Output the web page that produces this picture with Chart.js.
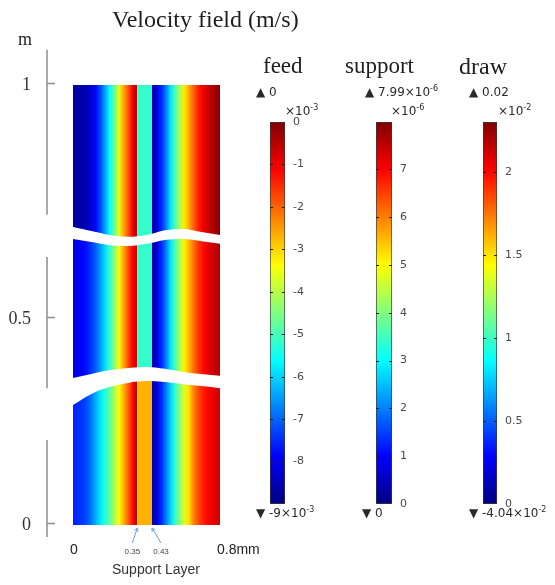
<!DOCTYPE html>
<html>
<head>
<meta charset="utf-8">
<title>Velocity field</title>
<script src="https://cdn.jsdelivr.net/npm/chart.js@4.4.1/dist/chart.umd.min.js"></script>
<style>
  html, body { margin: 0; padding: 0; background: #ffffff; }
  #wrap { position: relative; width: 555px; height: 585px; overflow: hidden; background: #ffffff; }
  canvas { position: absolute; }
  .t { position: absolute; white-space: nowrap; line-height: 1; }
  .serif { font-family: "Liberation Serif", "Times New Roman", serif; color: #1e1e1e; }
  .lab { font-family: "DejaVu Sans", sans-serif; font-size: 12px; color: #2a2a2a; }
  .lab sup { font-size: 8px; vertical-align: baseline; position: relative; top: -5px; }
  .sans { font-family: "Liberation Sans", Arial, sans-serif; color: #333333; }
</style>
</head>
<body>
<div id="wrap">
  <canvas id="field" width="300" height="585" style="left:0;top:0"></canvas>
  <canvas id="cbFeed" width="80" height="430" style="left:250px;top:100px"></canvas>
  <canvas id="cbSupport" width="80" height="430" style="left:356px;top:100px"></canvas>
  <canvas id="cbDraw" width="90" height="430" style="left:463px;top:100px"></canvas>

  <div class="t serif" style="left:112px;top:7px;font-size:24px">Velocity field (m/s)</div>
  <div class="t serif" style="left:18px;top:30px;font-size:18px">m</div>

  <div class="t serif" style="left:263px;top:54px;font-size:23px">feed</div>
  <div class="t serif" style="left:345px;top:54px;font-size:23px">support</div>
  <div class="t serif" style="left:459px;top:54px;font-size:24px">draw</div>

  <div class="t lab" style="left:256px;top:86px">▲ 0</div>
  <div class="t lab" style="left:365px;top:86px">▲ 7.99×10<sup>-6</sup></div>
  <div class="t lab" style="left:469px;top:86px">▲ 0.02</div>

  <div class="t lab" style="left:285px;top:105px">×10<sup>-3</sup></div>
  <div class="t lab" style="left:391px;top:105px">×10<sup>-6</sup></div>
  <div class="t lab" style="left:498px;top:105px">×10<sup>-2</sup></div>

  <div class="t lab" style="left:256px;top:507px">▼ -9×10<sup>-3</sup></div>
  <div class="t lab" style="left:362px;top:507px">▼ 0</div>
  <div class="t lab" style="left:469px;top:507px">▼ -4.04×10<sup>-2</sup></div>

  <div class="t sans" style="left:112px;top:562px;font-size:14px">Support Layer</div>
</div>

<script>
// Sample positions across the membrane cell (mm)
const feedX    = [0, 0.025, 0.05, 0.075, 0.1, 0.125, 0.15, 0.175, 0.2, 0.225, 0.25, 0.275, 0.3, 0.325, 0.35];
const supportX = [0.35, 0.43];
const drawX    = [0.43, 0.455, 0.48, 0.505, 0.53, 0.555, 0.58, 0.605, 0.63, 0.655, 0.68, 0.705, 0.73, 0.755, 0.78, 0.8];

// Feed channel velocity (x10^-3 m/s): upper, middle and lower part of the view
const feedUpper  = [-8.7, -8.7, -8.6, -8.5, -8.2, -7.8, -7.2, -6.4, -5.6, -4.7, -3.6, -2.6, -1.9, -1.0, -0.3];
const feedMiddle = [-8.1, -8.0, -7.9, -7.7, -7.4, -7.0, -6.5, -5.9, -5.2, -4.4, -3.5, -2.6, -1.8, -1.1, -0.6];
const feedLower  = [-7.6, -7.5, -7.4, -7.2, -6.8, -6.3, -5.8, -5.3, -4.8, -4.1, -3.4, -2.7, -2.0, -1.2, -0.4];

// Support layer velocity (x10^-6 m/s)
const supportUpper  = [3.4, 3.4];
const supportMiddle = [3.4, 3.4];
const supportLower  = [5.6, 5.6];

// Draw channel velocity (x10^-2 m/s)
const drawUpper  = [0.07, 0.2, 0.37, 0.56, 0.8, 1.02, 1.25, 1.48, 1.63, 1.79, 1.93, 2.03, 2.12, 2.19, 2.24, 2.28];
const drawMiddle = [0.07, 0.2, 0.37, 0.56, 0.8, 1.02, 1.25, 1.46, 1.6, 1.75, 1.88, 1.98, 2.06, 2.12, 2.16, 2.2];
const drawLower  = [0.07, 0.2, 0.37, 0.56, 0.76, 0.97, 1.17, 1.36, 1.5, 1.71, 1.84, 1.93, 2.0, 2.05, 2.09, 2.12];

// Colour ranges of the three legends
const feedRange    = [-9, 0];
const supportRange = [0, 7.99];
const drawRange    = [0, 2.3];

// Legend ticks
const feedTicks    = [0, -1, -2, -3, -4, -5, -6, -7, -8];
const supportTicks = [0, 1, 2, 3, 4, 5, 6, 7];
const drawTicks    = [0, 0.5, 1, 1.5, 2];

// Axis ticks of the field view (the view is cut twice, so the vertical axis is broken)
const xTickValues = [0, 0.8];
const xTickLabels = ['0', '0.8mm'];
const yTickAt     = [0, 0.468, 1];
const yTickLabels = ['0', '0.5', '1'];
const supportEdges = [0.35, 0.43];

// Wavy cut lines between the three parts of the view
const cutX       = [0, 0.1, 0.2, 0.3, 0.4, 0.5, 0.6, 0.7, 0.8];
const cut1Top    = [0.677, 0.668, 0.659, 0.655, 0.659, 0.670, 0.673, 0.666, 0.659];
const cut1Bottom = [0.650, 0.643, 0.636, 0.634, 0.639, 0.648, 0.650, 0.645, 0.639];
const cut2Top    = [0.334, 0.343, 0.352, 0.357, 0.359, 0.355, 0.348, 0.343, 0.339];
const cut2Bottom = [0.273, 0.298, 0.314, 0.323, 0.327, 0.325, 0.320, 0.316, 0.311];

// Rainbow colour table
const rainbow = [[0, [0, 0, 128]], [0.125, [0, 0, 255]], [0.375, [0, 255, 255]],
                 [0.625, [255, 255, 0]], [0.875, [255, 0, 0]], [1, [128, 0, 0]]];
function rainbowColor(t) {
  t = Math.max(0, Math.min(1, t));
  for (let i = 1; i < rainbow.length; i++) {
    if (t <= rainbow[i][0]) {
      const [t0, c0] = rainbow[i - 1], [t1, c1] = rainbow[i];
      const f = (t - t0) / (t1 - t0);
      return 'rgb(' + c0.map((c, k) => Math.round(c + (c1[k] - c) * f)).join(',') + ')';
    }
  }
  return 'rgb(128,0,0)';
}
const norm = (v, r) => (v - r[0]) / (r[1] - r[0]);

// Horizontal shading of one region, stops placed through the x scale
function regionFill(xs, vs, range) {
  return (ctx) => {
    const chart = ctx.chart, sx = chart.scales.x;
    if (!chart.chartArea || !sx) return rainbowColor(norm(vs[0], range));
    const a = sx.getPixelForValue(xs[0]);
    const b = sx.getPixelForValue(xs[xs.length - 1]);
    const g = chart.ctx.createLinearGradient(a, 0, b, 0);
    xs.forEach((x, i) => g.addColorStop((sx.getPixelForValue(x) - a) / (b - a), rainbowColor(norm(vs[i], range))));
    return g;
  };
}

function region(xs, vs, range, span) {
  return {
    data: [{ x: xs[0], y: span[0] }, { x: xs[xs.length - 1], y: span[0] }],
    fill: { value: span[1] },
    backgroundColor: regionFill(xs, vs, range),
    borderColor: 'rgba(0,0,0,0)', borderWidth: 0, pointRadius: 0, order: 2
  };
}

function cutLine(ys, fill) {
  return {
    data: cutX.map((x, i) => ({ x, y: ys[i] })),
    fill, backgroundColor: '#ffffff', borderColor: 'rgba(0,0,0,0)', borderWidth: 0,
    pointRadius: 0, cubicInterpolationMode: 'monotone', order: 1
  };
}

const upperSpan = [0.653, 1], middleSpan = [0.330, 0.653], lowerSpan = [0, 0.330];

// Broken vertical axis with inward ticks
const axisRuns = [[1.08, 0.705], [0.609, 0.311], [0.193, -0.027]];
const brokenAxis = {
  id: 'brokenAxis',
  afterDraw(chart) {
    const { ctx, chartArea } = chart, y = chart.scales.y;
    const x0 = chartArea.left - 26;
    ctx.save();
    ctx.strokeStyle = '#8c8c8c';
    ctx.lineWidth = 1.5;
    axisRuns.forEach(([a, b]) => {
      ctx.beginPath();
      ctx.moveTo(x0, y.getPixelForValue(a));
      ctx.lineTo(x0, y.getPixelForValue(b));
      ctx.stroke();
    });
    y.ticks.forEach(t => {
      const p = Math.round(y.getPixelForValue(t.value)) - 1.5;
      ctx.beginPath();
      ctx.moveTo(x0, p);
      ctx.lineTo(x0 + 8, p);
      ctx.stroke();
    });
    ctx.restore();
  }
};

// Arrows pointing at the support layer edges
const supportArrows = {
  id: 'supportArrows',
  afterDraw(chart) {
    const { ctx, chartArea } = chart, x = chart.scales.x;
    const lean = [-5, 9];
    ctx.save();
    ctx.strokeStyle = '#6aa2d8';
    ctx.fillStyle = '#444444';
    ctx.lineWidth = 1;
    ctx.font = '8px "Liberation Sans", Arial, sans-serif';
    ctx.textAlign = 'center';
    ctx.textBaseline = 'middle';
    supportEdges.forEach((v, i) => {
      const hx = x.getPixelForValue(v), hy = chartArea.bottom + 3;
      const tx = hx + lean[i], ty = chartArea.bottom + 18;
      ctx.beginPath();
      ctx.moveTo(tx, ty);
      ctx.lineTo(hx, hy);
      const ang = Math.atan2(hy - ty, hx - tx);
      ctx.moveTo(hx - 4 * Math.cos(ang - 0.5), hy - 4 * Math.sin(ang - 0.5));
      ctx.lineTo(hx, hy);
      ctx.lineTo(hx - 4 * Math.cos(ang + 0.5), hy - 4 * Math.sin(ang + 0.5));
      ctx.stroke();
      ctx.fillText(String(v), tx, chartArea.bottom + 27);
    });
    ctx.restore();
  }
};

new Chart(document.getElementById('field'), {
  type: 'line',
  data: {
    datasets: [
      region(feedX, feedUpper, feedRange, upperSpan),
      region(supportX, supportUpper, supportRange, upperSpan),
      region(drawX, drawUpper, drawRange, upperSpan),
      region(feedX, feedMiddle, feedRange, middleSpan),
      region(supportX, supportMiddle, supportRange, middleSpan),
      region(drawX, drawMiddle, drawRange, middleSpan),
      region(feedX, feedLower, feedRange, lowerSpan),
      region(supportX, supportLower, supportRange, lowerSpan),
      region(drawX, drawLower, drawRange, lowerSpan),
      cutLine(cut1Top, '+1'),
      cutLine(cut1Bottom, false),
      cutLine(cut2Top, '+1'),
      cutLine(cut2Bottom, false)
    ]
  },
  options: {
    responsive: false,
    animation: false,
    devicePixelRatio: 1,
    events: [],
    layout: { padding: { left: 0, right: 80, top: 85, bottom: 0 }, autoPadding: false },
    plugins: { legend: { display: false }, tooltip: { enabled: false } },
    scales: {
      x: {
        type: 'linear', min: 0, max: 0.8,
        afterBuildTicks: s => { s.ticks = xTickValues.map(v => ({ value: v })); },
        afterFit: s => { s.height = 60; },
        grid: { display: false, drawTicks: false },
        border: { display: false },
        ticks: {
          align: 'start', padding: 17, labelOffset: -3, autoSkip: false, maxRotation: 0,
          callback: (v, i) => xTickLabels[i],
          font: { family: '"Liberation Sans", Arial, sans-serif', size: 14 }, color: '#222222'
        }
      },
      y: {
        type: 'linear', min: 0, max: 1,
        afterBuildTicks: s => { s.ticks = yTickAt.map(v => ({ value: v })); },
        afterFit: s => { s.width = 73; },
        grid: { display: false, drawTicks: false },
        border: { display: false },
        ticks: {
          padding: 42, autoSkip: false,
          callback: (v, i) => yTickLabels[i],
          font: { family: '"Liberation Serif", "Times New Roman", serif', size: 18 }, color: '#333333'
        }
      }
    }
  },
  plugins: [brokenAxis, supportArrows]
});

// Small dark ticks on both edges of a colour legend
const edgeTicks = {
  id: 'edgeTicks',
  afterDatasetsDraw(chart) {
    const { ctx, chartArea: a } = chart, y = chart.scales.y;
    ctx.save();
    ctx.strokeStyle = '#222222';
    ctx.lineWidth = 1;
    y.ticks.forEach(t => {
      const p = Math.round(y.getPixelForValue(t.value)) + 0.5;
      if (p < a.top + 3 || p > a.bottom - 3) return;
      ctx.beginPath();
      ctx.moveTo(a.left, p); ctx.lineTo(a.left + 3, p);
      ctx.moveTo(a.right - 3, p); ctx.lineTo(a.right, p);
      ctx.stroke();
    });
    ctx.restore();
  }
};

function colorLegend(id, range, ticks, canvasWidth, barWidth) {
  new Chart(document.getElementById(id), {
    type: 'bar',
    data: {
      labels: [''],
      datasets: [{
        data: [[range[0], range[1]]],
        backgroundColor: (ctx) => {
          const chart = ctx.chart, a = chart.chartArea;
          if (!a) return rainbowColor(0.5);
          const g = chart.ctx.createLinearGradient(0, a.bottom, 0, a.top);
          rainbow.forEach(([t, c]) => g.addColorStop(t, 'rgb(' + c.join(',') + ')'));
          return g;
        },
        borderColor: '#3a3a3a', borderWidth: 1, borderSkipped: false,
        barPercentage: 1, categoryPercentage: 1
      }]
    },
    options: {
      responsive: false,
      animation: false,
      devicePixelRatio: 1,
      events: [],
      layout: { padding: { left: 20, right: 0, top: 22, bottom: 26 }, autoPadding: false },
      plugins: { legend: { display: false }, tooltip: { enabled: false } },
      scales: {
        x: { display: false },
        y: {
          position: 'right', min: range[0], max: range[1],
          afterBuildTicks: s => { s.ticks = ticks.map(v => ({ value: v })); },
          afterFit: s => { s.width = canvasWidth - 20 - barWidth; },
          grid: { display: false, drawTicks: false },
          border: { display: false },
          ticks: {
            padding: 8, autoSkip: false,
            callback: v => String(v),
            font: { family: '"DejaVu Sans", sans-serif', size: 11 }, color: '#4a4a4a'
          }
        }
      }
    },
    plugins: [edgeTicks]
  });
}

colorLegend('cbFeed', feedRange, feedTicks, 80, 15);
colorLegend('cbSupport', supportRange, supportTicks, 80, 16);
colorLegend('cbDraw', drawRange, drawTicks, 90, 14);
</script>
</body>
</html>
